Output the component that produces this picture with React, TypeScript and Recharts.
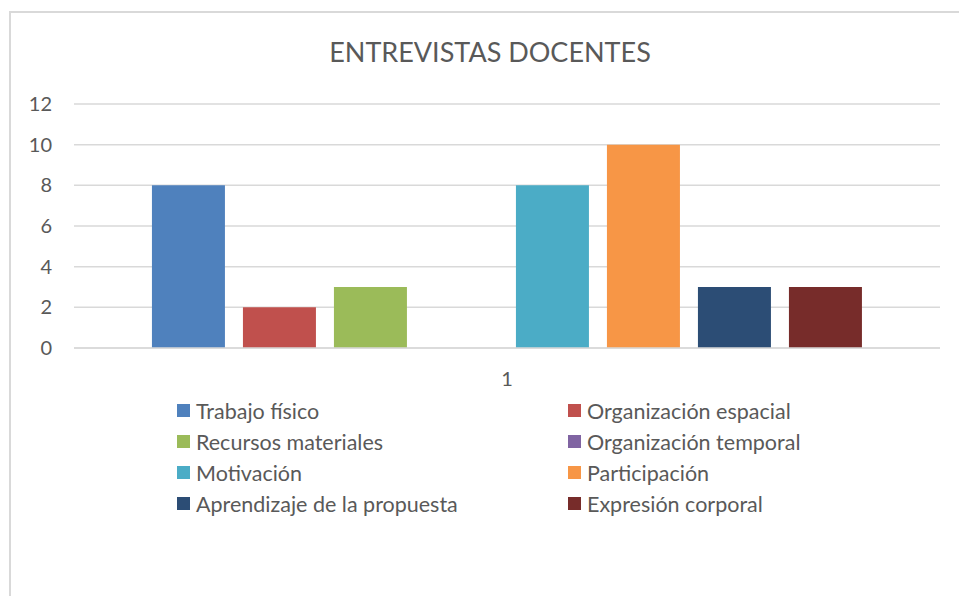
import React from 'react';
import { BarChart, Bar, XAxis, YAxis, CartesianGrid } from 'recharts';

const categories = ['1'];
const seriesNames = [
  'Trabajo físico',
  'Organización espacial',
  'Recursos materiales',
  'Organización temporal',
  'Motivación',
  'Participación',
  'Aprendizaje de la propuesta',
  'Expresión corporal',
];
const seriesValues = [8, 2, 3, 0, 8, 10, 3, 3];
const seriesColors = ['#4F81BD', '#C0504D', '#9BBB59', '#8064A2', '#4BACC6', '#F79646', '#2C4D75', '#772C2A'];
const yTicks = [0, 2, 4, 6, 8, 10, 12];

const FONT = 'Lato, "Open Sans", sans-serif';
const TEXT = '#595959';

const data = categories.map(cat => {
  const row: { [key: string]: string | number } = { name: cat };
  seriesNames.forEach((_, i) => { row[`s${i}`] = seriesValues[i]; });
  return row;
});

function LegendGrid() {
  return (
    <div style={{ position: 'absolute', top: 401, left: 177, display: 'grid', gridTemplateColumns: '391px 340px', rowGap: 12, fontFamily: FONT }}>
      {seriesNames.map((name, idx) => (
        <div key={name} style={{ display: 'flex', alignItems: 'center', height: 19, fontSize: 21.5, color: TEXT, whiteSpace: 'nowrap' }}>
          <span style={{ width: 13, height: 13, background: seriesColors[idx], marginRight: 6, display: 'inline-block' }} />
          {name}
        </div>
      ))}
    </div>
  );
}

export default function App() {
  return (
    <div style={{ position: 'absolute', left: 0, top: 0, width: 959, height: 596, overflow: 'hidden', background: '#fff' }}>
      {/* chart frame */}
      <div style={{ position: 'absolute', left: 9, top: 11, width: 980, height: 620, border: '2px solid #d9d9d9' }} />
      <div style={{ position: 'absolute', top: 35, left: 0, width: 980, textAlign: 'center', fontFamily: FONT, fontSize: 27, color: TEXT }}>
        ENTREVISTAS DOCENTES
      </div>
      <div style={{ position: 'absolute', left: 0, top: 0 }}>
        <BarChart
          width={959}
          height={596}
          data={data}
          margin={{ top: 104, right: 19, bottom: 248 - 60, left: 10 }}
          barCategoryGap="9%"
          barGap={18}
        >
          <CartesianGrid vertical={false} stroke="#d9d9d9" strokeWidth={1.5} />
          <XAxis
            dataKey="name"
            height={60}
            axisLine={{ stroke: '#d9d9d9', strokeWidth: 1.5 }}
            tickLine={false}
            tickSize={0}
            tickMargin={24}
            tick={{ fill: TEXT, fontSize: 20, fontFamily: FONT }}
          />
          <YAxis
            width={64}
            domain={[0, 12]}
            ticks={yTicks}
            interval={0}
            axisLine={false}
            tickLine={false}
            tickSize={0}
            tickMargin={22}
            tick={{ fill: TEXT, fontSize: 20, fontFamily: FONT }}
          />
          {seriesNames.map((name, i) => (
            <Bar key={name} dataKey={`s${i}`} name={name} fill={seriesColors[i]} isAnimationActive={false} />
          ))}
        </BarChart>
      </div>
      <LegendGrid />
    </div>
  );
}
